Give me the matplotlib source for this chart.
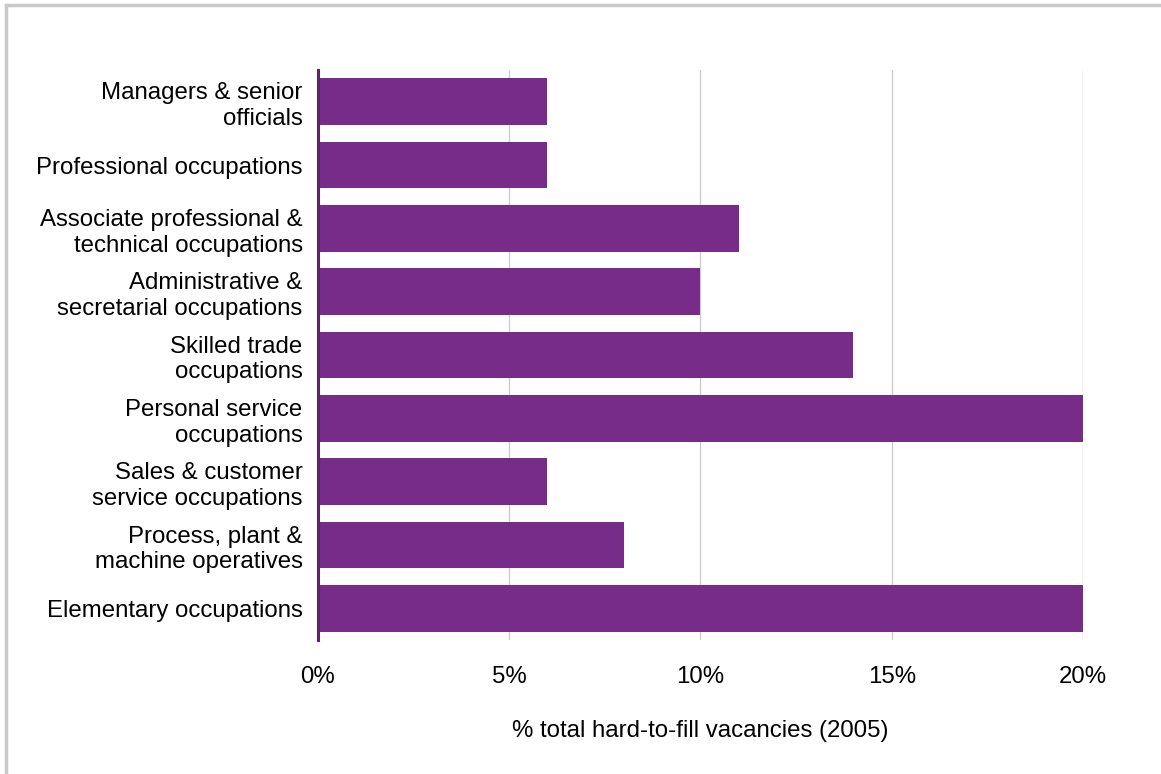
import matplotlib.pyplot as plt
from matplotlib.lines import Line2D
from matplotlib.ticker import FuncFormatter

occupations = [
    "Managers & senior\nofficials",
    "Professional occupations",
    "Associate professional &\ntechnical occupations",
    "Administrative &\nsecretarial occupations",
    "Skilled trade\noccupations",
    "Personal service\noccupations",
    "Sales & customer\nservice occupations",
    "Process, plant &\nmachine operatives",
    "Elementary occupations",
]
share_pct = [6, 6, 11, 10, 14, 20, 6, 8, 20]
x_ticks = [0, 5, 10, 15, 20]

plt.rcParams["font.family"] = ["Liberation Sans", "DejaVu Sans"]

fig = plt.figure(figsize=(11.61, 7.74), dpi=100)
ax = fig.add_axes([0.2739, 0.1731, 0.6589, 0.7364])

ypos = list(range(len(occupations)))
ax.barh(ypos, share_pct, height=0.74, color="#772C8A", zorder=3)

ax.set_ylim(len(occupations) - 0.5, -0.5)
ax.set_xlim(0, 20)
ax.set_yticks(ypos)
ax.set_yticklabels(occupations, fontsize=17.3, linespacing=1.22)
ax.set_xticks(x_ticks)
ax.xaxis.set_major_formatter(FuncFormatter(lambda v, _: f"{v:.0f}%"))
ax.tick_params(axis="x", labelsize=17.3, length=0, pad=19)
ax.tick_params(axis="y", length=0, pad=11)

ax.grid(axis="x", color="#cccccc", linewidth=1.0, zorder=0)
for side in ("top", "right", "bottom"):
    ax.spines[side].set_visible(False)
ax.spines["left"].set_color("#5a2568")
ax.spines["left"].set_linewidth(2.2)
ax.spines["left"].set_zorder(4)

ax.set_xlabel("% total hard-to-fill vacancies (2005)", fontsize=17.3, labelpad=23)

# frame line along the top and left of the figure
fig.add_artist(Line2D([0.005, 0.005], [0, 0.994], color="#c8c8c8", linewidth=2.5))
fig.add_artist(Line2D([0.005, 1], [0.994, 0.994], color="#c8c8c8", linewidth=2.5))

fig.savefig("out.png", dpi=100)
